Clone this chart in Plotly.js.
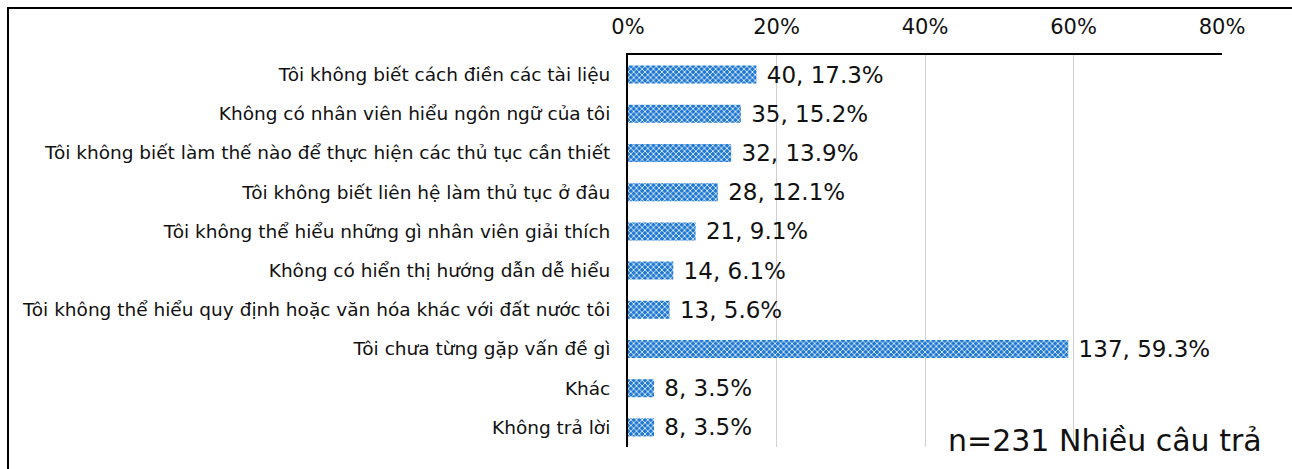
<!DOCTYPE html>
<html>
<head>
<meta charset="utf-8">
<script src="https://cdn.plot.ly/plotly-3.0.1.min.js"></script>
<style>html,body{margin:0;padding:0;background:#fff;overflow:hidden}#chart{width:1292px;height:469px}</style>
</head>
<body>
<div id="chart"></div>
<script>
const categories = [
  "Tôi không biết cách điền các tài liệu",
  "Không có nhân viên hiểu ngôn ngữ của tôi",
  "Tôi không biết làm thế nào để thực hiện các thủ tục cần thiết",
  "Tôi không biết liên hệ làm thủ tục ở đâu",
  "Tôi không thể hiểu những gì nhân viên giải thích",
  "Không có hiển thị hướng dẫn dễ hiểu",
  "Tôi không thể hiểu quy định hoặc văn hóa khác với đất nước tôi",
  "Tôi chưa từng gặp vấn đề gì",
  "Khác",
  "Không trả lời"
];
const counts = [40, 35, 32, 28, 21, 14, 13, 137, 8, 8];
const percents = [17.3, 15.2, 13.9, 12.1, 9.1, 6.1, 5.6, 59.3, 3.5, 3.5];
const tickValues = [0, 20, 40, 60, 80];
const tickLabels = ["0%", "20%", "40%", "60%", "80%"];
const noteText = "n=231 Nhiều câu trả";

const FONT = "DejaVu Sans, Noto Sans, sans-serif";
const labels = counts.map((c, i) => " " + c + ", " + percents[i].toFixed(1) + "%");

const trace = {
  type: "bar",
  orientation: "h",
  x: percents,
  y: categories,
  text: labels,
  textposition: "outside",
  constraintext: "none",
  cliponaxis: false,
  textfont: {family: FONT, size: 23, color: "#111"},
  marker: {
    color: "#1f78d1",
    line: {width: 0},
    pattern: {shape: "x", fgcolor: "#ffffff", bgcolor: "#1f78d1", size: 4, solidity: 0.35, fillmode: "replace"}
  },
  hoverinfo: "skip"
};

const layout = {
  width: 1292, height: 469,
  margin: {l: 628, r: 70, t: 55, b: 22},
  paper_bgcolor: "#fff", plot_bgcolor: "#fff",
  showlegend: false,
  bargap: 0.54,
  font: {family: FONT, color: "#111"},
  xaxis: {
    side: "top", range: [0, 80], tickvals: tickValues, ticktext: tickLabels,
    tickfont: {size: 21, color: "#111"}, ticklabelstandoff: 11,
    showgrid: true, gridcolor: "#d0d0d0", gridwidth: 1,
    showline: true, linecolor: "#000", linewidth: 2,
    zeroline: false, ticks: "", fixedrange: true
  },
  yaxis: {
    autorange: "reversed", type: "category",
    tickfont: {size: 18.5, color: "#111"},
    showline: true, linecolor: "#000", linewidth: 2,
    ticks: "", ticklabelstandoff: 12, showgrid: false, fixedrange: true
  },
  shapes: [{
    type: "rect", xref: "paper", yref: "paper",
    x0: (8 - 628) / 594, x1: (1310 - 628) / 594,
    y0: (447 - 490) / 392, y1: 1 + (47 / 392),
    line: {color: "#000", width: 2}, fillcolor: "rgba(0,0,0,0)", layer: "above"
  }],
  annotations: [{
    xref: "paper", yref: "paper",
    x: (946 - 628) / 594, y: (447 - 440) / 392,
    xanchor: "left", yanchor: "middle",
    text: noteText, showarrow: false,
    font: {family: FONT, size: 30, color: "#111"}
  }]
};

Plotly.newPlot("chart", [trace], layout, {displayModeBar: false, staticPlot: true});
</script>
</body>
</html>
